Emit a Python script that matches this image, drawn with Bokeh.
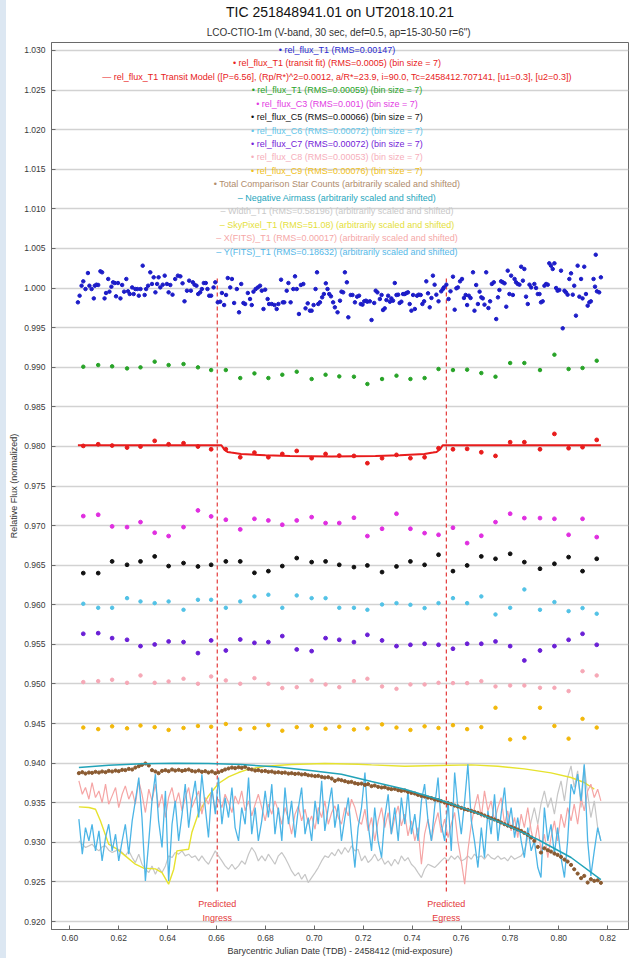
from bokeh.plotting import figure
from bokeh.models import Range1d, Label, Title, Div, FixedTicker, PrintfTickFormatter
from bokeh.layouts import row
from bokeh.embed import file_html
from bokeh.resources import INLINE

# ---------------- data ----------------
title_main = "TIC 251848941.01 on UT2018.10.21"
title_sub = 'LCO-CTIO-1m (V-band, 30 sec, def=0.5, ap=15-30-50  r=6")'
x_label = "Barycentric Julian Date (TDB) - 2458412 (mid-exposure)"
y_label = "Relative Flux (normalized)"

x_ticks = [0.60, 0.62, 0.64, 0.66, 0.68, 0.70, 0.72, 0.74, 0.76, 0.78, 0.80, 0.82]
y_ticks = [0.920, 0.925, 0.930, 0.935, 0.940, 0.945, 0.950, 0.955, 0.960, 0.965, 0.970, 0.975,
           0.980, 0.985, 0.990, 0.995, 1.000, 1.005, 1.010, 1.015, 1.020, 1.025, 1.030]

ingress_t = 0.6603
egress_t = 0.7540

# unbinned rel_flux_T1
t_unb = [
    0.6033, 0.6040, 0.6048, 0.6055, 0.6064, 0.6074, 0.6080, 0.6089, 0.6098, 0.6102,
    0.6109, 0.6116, 0.6125, 0.6132, 0.6142, 0.6148, 0.6157, 0.6162, 0.6170, 0.6177,
    0.6184, 0.6189, 0.6197, 0.6207, 0.6214, 0.6222, 0.6231, 0.6238, 0.6245, 0.6255,
    0.6261, 0.6268, 0.6276, 0.6282, 0.6289, 0.6298, 0.6306, 0.6312, 0.6320, 0.6329,
    0.6336, 0.6343, 0.6350, 0.6357, 0.6363, 0.6370, 0.6380, 0.6388, 0.6397, 0.6404,
    0.6411, 0.6420, 0.6431, 0.6442, 0.6452, 0.6461, 0.6469, 0.6479, 0.6488, 0.6495,
    0.6503, 0.6510, 0.6518, 0.6525, 0.6533, 0.6540, 0.6548, 0.6556, 0.6563, 0.6570,
    0.6578, 0.6588, 0.6595, 0.6605, 0.6615, 0.6622, 0.6631, 0.6639, 0.6646, 0.6656,
    0.6663, 0.6672, 0.6683, 0.6692, 0.6701, 0.6710, 0.6717, 0.6728, 0.6737, 0.6744,
    0.6751, 0.6760, 0.6769, 0.6778, 0.6785, 0.6792, 0.6799, 0.6809, 0.6815, 0.6826,
    0.6837, 0.6846, 0.6853, 0.6864, 0.6871, 0.6877, 0.6887, 0.6894, 0.6903, 0.6914,
    0.6921, 0.6928, 0.6937, 0.6945, 0.6955, 0.6964, 0.6973, 0.6982, 0.6989, 0.6997,
    0.7005, 0.7011, 0.7016, 0.7023, 0.7032, 0.7039, 0.7047, 0.7054, 0.7061, 0.7068,
    0.7077, 0.7084, 0.7095, 0.7105, 0.7111, 0.7118, 0.7125, 0.7133, 0.7139, 0.7149,
    0.7156, 0.7166, 0.7175,
    0.7183, 0.7190, 0.7197, 0.7204, 0.7211, 0.7217, 0.7227, 0.7234, 0.7245, 0.7251,
    0.7258, 0.7268, 0.7275, 0.7281, 0.7288, 0.7295, 0.7302, 0.7309, 0.7315, 0.7322,
    0.7329, 0.7336, 0.7343, 0.7349, 0.7356, 0.7363, 0.7370, 0.7377, 0.7383, 0.7390,
    0.7397, 0.7404, 0.7411, 0.7420, 0.7427, 0.7435, 0.7442, 0.7449, 0.7458, 0.7465,
    0.7472, 0.7479, 0.7485, 0.7492, 0.7499, 0.7508, 0.7519, 0.7526, 0.7530, 0.7540,
    0.7549, 0.7557, 0.7567, 0.7574, 0.7581, 0.7587, 0.7596, 0.7604, 0.7612, 0.7619,
    0.7625, 0.7632, 0.7639, 0.7649, 0.7655, 0.7662, 0.7669, 0.7676, 0.7683, 0.7689,
    0.7696, 0.7703, 0.7712, 0.7719, 0.7726, 0.7734, 0.7744, 0.7751, 0.7757, 0.7764,
    0.7771, 0.7778, 0.7785, 0.7791, 0.7798, 0.7805, 0.7812, 0.7819, 0.7825, 0.7832,
    0.7839, 0.7846, 0.7853, 0.7859, 0.7866, 0.7873, 0.7880, 0.7887, 0.7900, 0.7907,
    0.7914, 0.7921, 0.7927, 0.7934, 0.7941, 0.7948, 0.7955, 0.7961, 0.7968, 0.7975,
    0.7982, 0.7989, 0.7995, 0.8002, 0.8009, 0.8016, 0.8023, 0.8029, 0.8036, 0.8043,
    0.8050, 0.8057, 0.8063, 0.8070, 0.8077, 0.8084, 0.8091, 0.8097, 0.8104, 0.8111,
    0.8118, 0.8125, 0.8131, 0.8142, 0.8148, 0.8151, 0.8156, 0.8165, 0.8172,
]
f_unb = [
    0.99819, 0.99903, 1.00029, 1.00084, 0.99987, 1.00189, 1.00029, 0.99987, 0.99869, 1.00029,
    1.00042, 1.00038, 1.00211, 1.00198, 0.99869, 0.99937, 1.00114, 0.99954, 1.00017, 1.00072,
    1.00063, 0.99895, 1.00063, 0.99869, 1.00038, 0.99954, 1.00114, 0.99958, 0.99924, 1.00008,
    0.99924, 0.99987, 0.99987, 0.99903, 0.99987, 1.00282, 0.99912, 0.99987, 1.00029, 1.00198,
    1.00051, 1.00135, 0.99945, 1.00051, 1.00135, 1.00008, 1.00042, 1.00156, 1.00051, 0.99945,
    1.00038, 0.99916, 1.00114, 1.00156, 1.00147, 1.00059, 0.99832, 0.99966, 1.00093, 0.99966,
    1.00072, 1.00042, 1.00029, 0.99924, 0.99945, 0.99987, 1.00063, 1.00063, 0.99987, 0.99903,
    0.99903, 1.00008, 1.00072, 0.99819, 0.99827, 0.99937, 0.99785, 0.99912, 1.00126, 1.00008,
    1.00114, 0.99811, 0.99987, 0.99693, 1.00051, 0.99811, 0.99798, 0.99937, 0.99861, 0.99785,
    0.99954, 0.99987, 1.00008, 1.00029, 0.99966, 0.99735, 0.99979, 0.99861, 0.99798, 0.99798,
    0.99785, 0.99735, 0.99798, 1.00105, 0.99819, 0.99819, 0.99966, 1.00063, 0.99819, 0.99987,
    1.00147, 0.99987, 0.99672, 1.00038, 1.00051, 0.99743, 0.99806, 0.99714, 0.99714, 0.99785,
    0.99987, 1.00198, 0.99798, 0.99819, 0.99882, 0.99924, 1.00059, 0.99987, 0.99924, 0.99895,
    0.99819, 0.99756, 0.99693, 0.99840, 0.99954, 0.99945, 1.00198, 1.00072, 0.99630, 0.99912,
    0.99912, 0.99819, 0.99891,
    0.99903, 0.99798, 0.99790, 0.99832, 0.99840, 0.99827, 0.99832, 0.99596, 0.99811, 0.99966,
    0.99945, 0.99861, 0.99912, 0.99722, 0.99743, 0.99848, 0.99903, 0.99827, 0.99869, 0.99840,
    1.00063, 0.99912, 0.99916, 0.99811, 0.99827, 0.99924, 0.99924, 0.99937, 0.99945, 0.99798,
    0.99714, 0.99912, 0.99735, 0.99903, 0.99916, 0.99912, 0.99798, 0.99832, 1.00084, 0.99933,
    0.99756, 0.99874, 1.00156, 1.00042, 0.99916, 0.99832, 0.99958, 0.99987, 1.00008, 1.00042,
    0.99861, 0.99958, 1.00143, 0.99726, 0.99996, 1.00008, 1.00084, 1.00114, 0.99874, 0.99912,
    0.99785, 0.99903, 0.99874, 1.00198, 0.99714, 1.00038, 0.99798, 0.99954, 0.99882, 0.99869,
    0.99790, 1.00198, 0.99747, 0.99832, 1.00051, 1.00072, 0.99608, 0.99882, 0.99975, 1.00084,
    1.00072, 1.00059, 0.99764, 1.00219, 0.99924, 1.00156, 0.99912, 1.00114, 1.00072, 1.00051,
    1.00042, 1.00269, 1.00093, 1.00240, 0.99891, 0.99798, 1.00042, 1.00008, 1.00051, 1.00000,
    0.99924, 0.99924, 0.99819, 0.99832, 1.00029, 1.00051, 1.00042, 1.00312, 1.00282, 1.00240,
    1.00312, 1.00000, 0.99966, 0.99975, 1.00219, 0.99491, 0.99966, 0.99945, 0.99916, 1.00114,
    1.00185, 0.99916, 1.00029, 0.99651, 1.00282, 0.99891, 1.00114, 0.99869, 1.00269, 0.99924,
    0.99777, 0.99819, 0.99832, 1.00114, 1.00017, 1.00420, 0.99958, 0.99945, 1.00135,
]

# binned series (bin size = 7)
t_bin = [0.6055, 0.6116, 0.6173, 0.6234, 0.6289, 0.6347, 0.6404, 0.6465, 0.6524, 0.6578,
         0.6638, 0.6697, 0.6755, 0.6812, 0.6869, 0.6928, 0.6989, 0.7046, 0.7102, 0.7162,
         0.7217, 0.7277, 0.7336, 0.7393, 0.7451, 0.7508, 0.7567, 0.7625, 0.7683, 0.7741,
         0.7801, 0.7859, 0.7923, 0.7982, 0.8040, 0.8097, 0.8155]
t1_fit_bin = [0.98006, 0.98027, 0.98011, 0.97985, 0.97998, 0.98070, 0.98027, 0.98040, 0.97998, 0.97964,
              0.97964, 0.97863, 0.97922, 0.97863, 0.97905, 0.97943, 0.97851, 0.97905, 0.97884, 0.97880,
              0.97788, 0.97851, 0.97893, 0.97851, 0.97863, 0.97977, 0.97964, 0.97969, 0.97926, 0.97880,
              0.98053, 0.98053, 0.97964, 0.98158, 0.97977, 0.97990, 0.98082]
t1_bin = [0.99006, 0.99027, 0.99011, 0.98985, 0.98998, 0.99070, 0.99027, 0.99040, 0.98998, 0.98964,
          0.98964, 0.98863, 0.98922, 0.98863, 0.98905, 0.98943, 0.98851, 0.98905, 0.98884, 0.98880,
          0.98788, 0.98851, 0.98893, 0.98851, 0.98863, 0.98977, 0.98964, 0.98969, 0.98926, 0.98880,
          0.99053, 0.99053, 0.98964, 0.99158, 0.98977, 0.98990, 0.99082]
c3_bin = [0.97120, 0.97137, 0.96990, 0.96981, 0.97044, 0.96910, 0.96868, 0.96981, 0.97192, 0.97116,
          0.97074, 0.96952, 0.97086, 0.97065, 0.97011, 0.97065, 0.97107, 0.97032, 0.97032, 0.97099,
          0.96868, 0.96960, 0.97150, 0.96960, 0.96905, 0.96884, 0.96973, 0.96779, 0.96872, 0.97044,
          0.97150, 0.97095, 0.97095, 0.97086, 0.96884, 0.97086, 0.96855]
c5_bin = [0.96400, 0.96400, 0.96548, 0.96505, 0.96548, 0.96611, 0.96489, 0.96527, 0.96484, 0.96505,
          0.96548, 0.96548, 0.96404, 0.96425, 0.96489, 0.96590, 0.96539, 0.96548, 0.96505, 0.96476,
          0.96497, 0.96413, 0.96484, 0.96548, 0.96505, 0.96632, 0.96425, 0.96497, 0.96611, 0.96581,
          0.96644, 0.96539, 0.96455, 0.96518, 0.96602, 0.96425, 0.96581]
c6_bin = [0.96013, 0.95962, 0.95962, 0.96084, 0.96042, 0.96021, 0.96042, 0.95937, 0.96063, 0.96063,
          0.95962, 0.96042, 0.96106, 0.96127, 0.95962, 0.96118, 0.96084, 0.96084, 0.95962, 0.95962,
          0.95937, 0.96004, 0.96021, 0.96000, 0.95958, 0.96021, 0.96084, 0.96021, 0.96106, 0.95878,
          0.95962, 0.96194, 0.95937, 0.96034, 0.95920, 0.95958, 0.95887]
c7_bin = [0.95634, 0.95642, 0.95579, 0.95558, 0.95478, 0.95499, 0.95537, 0.95529, 0.95390, 0.95550,
          0.95423, 0.95562, 0.95520, 0.95529, 0.95605, 0.95436, 0.95415, 0.95579, 0.95558, 0.95529,
          0.95621, 0.95550, 0.95478, 0.95495, 0.95508, 0.95495, 0.95445, 0.95508, 0.95508, 0.95537,
          0.95478, 0.95297, 0.95423, 0.95478, 0.95558, 0.95634, 0.95495]
c8_bin = [0.95024, 0.95036, 0.95053, 0.95015, 0.95108, 0.95015, 0.95032, 0.95066, 0.95003, 0.95095,
          0.95045, 0.95003, 0.95074, 0.95003, 0.94948, 0.94960, 0.95045, 0.94994, 0.94960, 0.95036,
          0.95066, 0.94969, 0.94939, 0.94994, 0.94994, 0.95015, 0.95011, 0.95011, 0.95036, 0.94969,
          0.94981, 0.94981, 0.94952, 0.94952, 0.94910, 0.95162, 0.95108]
c9_bin = [0.94450, 0.94430, 0.94465, 0.94440, 0.94475, 0.94455, 0.94420, 0.94445, 0.94470, 0.94460,
          0.94495, 0.94430, 0.94445, 0.94480, 0.94410, 0.94455, 0.94470, 0.94435, 0.94460, 0.94425,
          0.94440, 0.94490, 0.94450, 0.94420, 0.94465, 0.94445, 0.94480, 0.94430, 0.94455, 0.94700,
          0.94300, 0.94320, 0.94700, 0.94470, 0.94310, 0.94560, 0.94450]

# transit model
model_t = [0.6033, 0.6620, 0.6632, 0.6645, 0.6660, 0.6700, 0.6800, 0.6900, 0.7071,
           0.7250, 0.7350, 0.7450, 0.7485, 0.7500, 0.7513, 0.7525, 0.8172]
model_f = [0.98015, 0.98015, 0.97960, 0.97930, 0.97922, 0.97905, 0.97888, 0.97878, 0.97872,
           0.97878, 0.97888, 0.97905, 0.97922, 0.97930, 0.97960, 0.98015, 0.98015]

# auxiliary series (sampled on a common time grid)
t_aux = [
    0.6037, 0.6051, 0.6064, 0.6078, 0.6091, 0.6105, 0.6119, 0.6132, 0.6146, 0.6159,
    0.6173, 0.6187, 0.6200, 0.6214, 0.6227, 0.6241, 0.6255, 0.6268, 0.6282, 0.6295,
    0.6309, 0.6323, 0.6336, 0.6350, 0.6363, 0.6377, 0.6391, 0.6404, 0.6418, 0.6431,
    0.6445, 0.6459, 0.6472, 0.6486, 0.6499, 0.6513, 0.6527, 0.6540, 0.6554, 0.6567,
    0.6581, 0.6595, 0.6608, 0.6622, 0.6635, 0.6649, 0.6663, 0.6676, 0.6690, 0.6703,
    0.6717, 0.6731, 0.6744, 0.6758, 0.6771, 0.6785, 0.6799, 0.6812, 0.6826, 0.6839,
    0.6853, 0.6867, 0.6880, 0.6894, 0.6907, 0.6921, 0.6935, 0.6948, 0.6962, 0.6975,
    0.6989, 0.7003, 0.7016, 0.7030, 0.7043, 0.7057, 0.7071, 0.7084, 0.7098, 0.7111,
    0.7125, 0.7139, 0.7152, 0.7166, 0.7179,
    0.7193, 0.7207, 0.7220, 0.7234, 0.7247, 0.7261, 0.7275, 0.7288, 0.7302, 0.7315,
    0.7329, 0.7343, 0.7356, 0.7370, 0.7383, 0.7397, 0.7411, 0.7424, 0.7438, 0.7451,
    0.7465, 0.7479, 0.7492, 0.7506, 0.7519, 0.7533, 0.7547, 0.7560, 0.7574, 0.7587,
    0.7601, 0.7615, 0.7628, 0.7642, 0.7655, 0.7669, 0.7683, 0.7696, 0.7710, 0.7723,
    0.7737, 0.7751, 0.7764, 0.7778, 0.7791, 0.7805, 0.7819, 0.7832, 0.7846, 0.7859,
    0.7873, 0.7887, 0.7900, 0.7914, 0.7927, 0.7941, 0.7955, 0.7968, 0.7982, 0.7995,
    0.8009, 0.8023, 0.8036, 0.8050, 0.8063, 0.8077, 0.8091, 0.8104, 0.8118, 0.8131,
    0.8145, 0.8159, 0.8172,
]
comp_counts = [
    0.93874, 0.93886, 0.93869, 0.93882, 0.93878, 0.93891, 0.93882, 0.93895, 0.93886, 0.93903,
    0.93895, 0.93907, 0.93899, 0.93916, 0.93912, 0.93928, 0.93920, 0.93945, 0.93962, 0.93979,
    0.93996, 0.93971, 0.93912, 0.93895, 0.93874, 0.93903, 0.93912, 0.93899, 0.93920, 0.93907,
    0.93916, 0.93903, 0.93912, 0.93920, 0.93903, 0.93895, 0.93907, 0.93891, 0.93899, 0.93882,
    0.93895, 0.93874, 0.93886, 0.93903, 0.93920, 0.93933, 0.93945, 0.93937, 0.93949, 0.93941,
    0.93954, 0.93928, 0.93920, 0.93907, 0.93912, 0.93899, 0.93903, 0.93891, 0.93895, 0.93882,
    0.93886, 0.93878, 0.93882, 0.93869, 0.93874, 0.93865, 0.93869, 0.93857, 0.93861, 0.93848,
    0.93844, 0.93836, 0.93840, 0.93827, 0.93819, 0.93823, 0.93806, 0.93777, 0.93794, 0.93785,
    0.93773, 0.93760, 0.93764, 0.93747, 0.93739,
    0.93743, 0.93726, 0.93735, 0.93710, 0.93718, 0.93701, 0.93693, 0.93697, 0.93680, 0.93672,
    0.93676, 0.93659, 0.93651, 0.93655, 0.93638, 0.93625, 0.93617, 0.93600, 0.93587, 0.93579,
    0.93566, 0.93558, 0.93541, 0.93533, 0.93520, 0.93503, 0.93495, 0.93482, 0.93465, 0.93453,
    0.93436, 0.93419, 0.93411, 0.93398, 0.93385, 0.93373, 0.93356, 0.93339, 0.93322, 0.93305,
    0.93289, 0.93272, 0.93251, 0.93230, 0.93213, 0.93196, 0.93179, 0.93162, 0.93145, 0.93120,
    0.93095, 0.93061, 0.93019, 0.92943, 0.92872, 0.92926, 0.92901, 0.92884, 0.92859, 0.92842,
    0.92817, 0.92783, 0.92758, 0.92716, 0.92661, 0.92606, 0.92548, 0.92577, 0.92493, 0.92535,
    0.92514, 0.92522, 0.92489,
]
width_t1 = [
    0.93019, 0.92977, 0.92935, 0.92956, 0.92977, 0.92926, 0.92893, 0.92943, 0.92956, 0.92901,
    0.92872, 0.92893, 0.92914, 0.92872, 0.92830, 0.92893, 0.92808, 0.92745, 0.92851, 0.92724,
    0.92661, 0.92619, 0.92703, 0.92598, 0.92682, 0.92619, 0.92703, 0.92830, 0.92808, 0.92872,
    0.92851, 0.92893, 0.92830, 0.92851, 0.92808, 0.92830, 0.92766, 0.92830, 0.92766, 0.92724,
    0.92808, 0.92893, 0.92830, 0.92766, 0.92703, 0.92661, 0.92724, 0.92661, 0.92703, 0.92766,
    0.92724, 0.92851, 0.92935, 0.92872, 0.92766, 0.92830, 0.92766, 0.92851, 0.92787, 0.92724,
    0.92830, 0.92872, 0.92808, 0.92724, 0.92640, 0.92577, 0.92619, 0.92535, 0.92598, 0.92493,
    0.92556, 0.92619, 0.92682, 0.92766, 0.92830, 0.92808, 0.92872, 0.92830, 0.92914, 0.92851,
    0.92935, 0.92872, 0.92956, 0.92893, 0.92914,
    0.92766, 0.92830, 0.92745, 0.92787, 0.92851, 0.92766, 0.92808, 0.92724, 0.92766, 0.92703,
    0.92787, 0.92724, 0.92830, 0.92766, 0.92808, 0.92724, 0.92682, 0.92619, 0.92556, 0.92661,
    0.92724, 0.92703, 0.92682, 0.92724, 0.92766, 0.92808, 0.92766, 0.92830, 0.92787, 0.92830,
    0.92766, 0.92787, 0.92830, 0.92787, 0.92851, 0.92808, 0.92830, 0.92787, 0.92851, 0.92808,
    0.92787, 0.92830, 0.92787, 0.92808, 0.92766, 0.92830, 0.92787, 0.92808, 0.92830, 0.92893,
    0.93061, 0.93272, 0.93440, 0.93229, 0.93482, 0.93650, 0.93440, 0.93566, 0.93356, 0.93608,
    0.93777, 0.93524, 0.93819, 0.93966, 0.93693, 0.93903, 0.93440, 0.93966, 0.93608, 0.93314,
    0.93524, 0.93187, 0.93019,
]
x_fits = [
    0.93777, 0.93608, 0.93693, 0.93545, 0.93756, 0.93566, 0.93650, 0.93503, 0.93735, 0.93482,
    0.93587, 0.93693, 0.93440, 0.93608, 0.93714, 0.93545, 0.93650, 0.93482, 0.93777, 0.93608,
    0.93377, 0.93672, 0.93524, 0.93735, 0.93440, 0.93608, 0.93314, 0.93566, 0.93693, 0.93482,
    0.93629, 0.93398, 0.93566, 0.93693, 0.93440, 0.93545, 0.93650, 0.93356, 0.93566, 0.93482,
    0.93650, 0.93419, 0.93545, 0.93440, 0.93608, 0.93503, 0.93377, 0.93587, 0.93482, 0.93650,
    0.93398, 0.93524, 0.93335, 0.93482, 0.93608, 0.93440, 0.93272, 0.93482, 0.93356, 0.93524,
    0.93398, 0.93229, 0.93440, 0.93293, 0.93103, 0.93356, 0.93461, 0.93272, 0.93419, 0.93229,
    0.93335, 0.93166, 0.93440, 0.93314, 0.93524, 0.93229, 0.93377, 0.93461, 0.93314, 0.93229,
    0.93440, 0.93335, 0.93545, 0.93440, 0.93272,
    0.93229, 0.93419, 0.93145, 0.93314, 0.93019, 0.93272, 0.93440, 0.93187, 0.93377, 0.93103,
    0.93314, 0.93461, 0.93208, 0.93356, 0.93082, 0.93272, 0.93019, 0.93187, 0.92724, 0.93103,
    0.93293, 0.93019, 0.93229, 0.93377, 0.93124, 0.93293, 0.93061, 0.93229, 0.93377, 0.93019,
    0.92766, 0.92472, 0.92893, 0.93229, 0.93440, 0.93608, 0.93314, 0.93650, 0.93398, 0.93524,
    0.93272, 0.93440, 0.93566, 0.93229, 0.93398, 0.93145, 0.93314, 0.93061, 0.93356, 0.93187,
    0.93440, 0.93145, 0.92977, 0.93229, 0.92893, 0.93103, 0.92808, 0.93061, 0.93272, 0.93019,
    0.93356, 0.93187, 0.93440, 0.93272, 0.93482, 0.93229, 0.93566, 0.93398, 0.93650, 0.93735,
    0.93566, 0.93672, 0.93524,
]
y_fits = [
    0.93293, 0.92851, 0.93187, 0.93019, 0.93229, 0.92893, 0.93145, 0.92766, 0.93061, 0.93229,
    0.92893, 0.93103, 0.92766, 0.93019, 0.93229, 0.92851, 0.93272, 0.93524, 0.93819, 0.93314,
    0.92514, 0.93019, 0.93524, 0.93861, 0.93272, 0.92935, 0.93650, 0.92514, 0.93229, 0.93524,
    0.93019, 0.93356, 0.93735, 0.93187, 0.93524, 0.93777, 0.93314, 0.93861, 0.93440, 0.93061,
    0.93693, 0.93356, 0.93819, 0.93229, 0.93566, 0.93314, 0.93693, 0.93187, 0.93019, 0.93440,
    0.93229, 0.93819, 0.93103, 0.93440, 0.93019, 0.93272, 0.93650, 0.93314, 0.93735, 0.93103,
    0.93440, 0.93019, 0.93693, 0.93229, 0.93524, 0.93061, 0.93440, 0.93693, 0.93103, 0.93314,
    0.93019, 0.93524, 0.93229, 0.93777, 0.93145, 0.93440, 0.93693, 0.93187, 0.93482, 0.93019,
    0.93314, 0.93566, 0.93103, 0.92682, 0.93187,
    0.93440, 0.93882, 0.93229, 0.92893, 0.93440, 0.93019, 0.92808, 0.93314, 0.93608, 0.93103,
    0.93440, 0.93019, 0.93566, 0.93229, 0.93650, 0.93103, 0.93356, 0.93019, 0.93524, 0.93735,
    0.93272, 0.93019, 0.93440, 0.93819, 0.93229, 0.93019, 0.93524, 0.92893, 0.93882, 0.93440,
    0.93103, 0.93524, 0.93987, 0.93272, 0.93019, 0.92682, 0.93187, 0.92808, 0.93398, 0.93103,
    0.93608, 0.93019, 0.93356, 0.93693, 0.93187, 0.93440, 0.93061, 0.93314, 0.93019, 0.92808,
    0.93187, 0.92893, 0.93019, 0.92682, 0.92556, 0.93440, 0.93019, 0.93229, 0.92851, 0.93187,
    0.92808, 0.92556, 0.93019, 0.93735, 0.93608, 0.93861, 0.93524, 0.93987, 0.93019, 0.92577,
    0.92893, 0.93187, 0.93019,
]

airmass_t = [0.6037, 0.6159, 0.6295, 0.6431, 0.6567, 0.6703, 0.6839, 0.6975, 0.7111,
             0.7234, 0.7370, 0.7506, 0.7642, 0.7778, 0.7914, 0.8050, 0.8172]
airmass_v = [0.93945, 0.93975, 0.93992, 0.94000, 0.93996, 0.93983, 0.93954, 0.93912, 0.93861,
             0.93768, 0.93672, 0.93545, 0.93398, 0.93230, 0.93036, 0.92809, 0.92530]

sky_t = [0.6037, 0.6078, 0.6105, 0.6125, 0.6159, 0.6193, 0.6227, 0.6268, 0.6302, 0.6350,
         0.6377, 0.6404, 0.6425, 0.6438, 0.6486, 0.6499, 0.6527, 0.6567, 0.6608, 0.6649,
         0.6690, 0.6731, 0.6799, 0.6907, 0.7043, 0.7179, 0.7234, 0.7370, 0.7506, 0.7642,
         0.7751, 0.7859, 0.7968, 0.8050, 0.8104, 0.8145]
sky_v = [0.93449, 0.93440, 0.93419, 0.93272, 0.92977, 0.92914, 0.92830, 0.92724, 0.92674, 0.92665,
         0.92619, 0.92472, 0.92661, 0.92893, 0.92914, 0.93124, 0.93377, 0.93587, 0.93743, 0.93827,
         0.93882, 0.93924, 0.93962, 0.93983, 0.93996, 0.93987, 0.93979, 0.93962, 0.93971, 0.93979,
         0.93962, 0.93928, 0.93878, 0.93819, 0.93756, 0.93672]

legend_entries = [
    ("\u2022 rel_flux_T1 (RMS=0.00147)", "#2a2ad0"),
    ("\u2022 rel_flux_T1 (transit fit) (RMS=0.0005) (bin size = 7)", "#e82222"),
    ("\u2014 rel_flux_T1 Transit Model ([P=6.56], (Rp/R*)^2=0.0012, a/R*=23.9, i=90.0, "
     "Tc=2458412.707141, [u1=0.3], [u2=0.3])", "#e82222"),
    ("\u2022 rel_flux_T1 (RMS=0.00059) (bin size = 7)", "#2aa52a"),
    ("\u2022 rel_flux_C3 (RMS=0.001) (bin size = 7)", "#e23ce2"),
    ("\u2022 rel_flux_C5 (RMS=0.00066) (bin size = 7)", "#111111"),
    ("\u2022 rel_flux_C6 (RMS=0.00072) (bin size = 7)", "#62c6ea"),
    ("\u2022 rel_flux_C7 (RMS=0.00072) (bin size = 7)", "#7422d8"),
    ("\u2022 rel_flux_C8 (RMS=0.00053) (bin size = 7)", "#f6aebb"),
    ("\u2022 rel_flux_C9 (RMS=0.00076) (bin size = 7)", "#f0c020"),
    ("\u2022 Total Comparison Star Counts (arbitrarily scaled and shifted)", "#b08c6c"),
    ("\u2013 Negative Airmass (arbitrarily scaled and shifted)", "#25a6bd"),
    ("\u2013 Width_T1 (RMS=0.58196) (arbitrarily scaled and shifted)", "#c8c8c8"),
    ("\u2013 SkyPixel_T1 (RMS=51.08) (arbitrarily scaled and shifted)", "#e4e03a"),
    ("\u2013 X(FITS)_T1 (RMS=0.00017) (arbitrarily scaled and shifted)", "#f5a7a7"),
    ("\u2013 Y(FITS)_T1 (RMS=0.18632) (arbitrarily scaled and shifted)", "#55b8e8"),
]

# ---------------- styling / layout ----------------
FONT = "Liberation Sans"
X0, X1 = 0.5925, 0.8285
Y0, Y1 = 0.9190, 1.0310
STRIP = 6
FIG_W, FIG_H = 631 - STRIP, 958
FRAME_TOP, FRAME_H = 42, 887

C_BLUE, C_RED, C_GREEN = "#1c1cc8", "#e81c1c", "#27a327"
C_MAG, C_BLACK, C_C6, C_C7 = "#e02ee0", "#111111", "#52c2e6", "#6a1fd6"
C_C8, C_C9, C_BROWN = "#f6a8b6", "#f2b80a", "#8a5a30"
C_TEAL, C_GRAY, C_YEL, C_PINK, C_SKY = "#22a3b8", "#c6c6c6", "#e6e22e", "#f5a5a5", "#4cb5e6"

p = figure(width=FIG_W, height=FIG_H, x_range=Range1d(X0, X1), y_range=Range1d(Y0, Y1),
           output_backend="svg", toolbar_location=None,
           min_border_left=40, min_border_right=3, min_border_bottom=27, min_border_top=FRAME_TOP)
p.background_fill_color = "white"
p.border_fill_color = "white"
p.outline_line_color = "#6a6a6a"
p.outline_line_width = 1

p.xaxis.ticker = FixedTicker(ticks=x_ticks)
p.yaxis.ticker = FixedTicker(ticks=y_ticks)
p.xaxis.formatter = PrintfTickFormatter(format="%.2f")
p.yaxis.formatter = PrintfTickFormatter(format="%.3f")
for ax in (p.xaxis[0], p.yaxis[0]):
    ax.axis_line_color = "#6a6a6a"
    ax.major_tick_line_color = "#6a6a6a"
    ax.major_tick_in = 4
    ax.major_tick_out = 0
    ax.minor_tick_line_color = None
    ax.major_label_text_font = FONT
    ax.major_label_text_font_size = "8.5px"
    ax.major_label_text_color = "#3a3a3a"
    ax.axis_label_text_font = FONT
    ax.axis_label_text_font_size = "9px"
    ax.axis_label_text_font_style = "normal"
    ax.axis_label_text_color = "#333333"
p.xaxis.axis_label = x_label
p.yaxis.axis_label = y_label
p.xaxis.major_label_standoff = 5
p.xaxis.axis_label_standoff = 2
p.yaxis.major_label_standoff = 6
p.yaxis.axis_label_standoff = 2

p.xgrid.visible = False
p.ygrid.grid_line_color = "#d2d2d2"
p.ygrid.grid_line_width = 1.5

# titles (subtitle first so that it sits next to the frame)
p.add_layout(Title(text=title_sub, align="center", text_font=FONT, text_font_size="10px",
                   text_font_style="normal", text_color="#333333", standoff=10,
                   text_line_height=0.9), "above")
p.add_layout(Title(text=title_main, align="center", text_font=FONT, text_font_size="14px",
                   text_font_style="normal", text_color="#111111", standoff=0), "above")

px_per_y = FRAME_H / (Y1 - Y0)
x_mid = (X0 + X1) / 2

# ---------------- glyphs ----------------
# predicted ingress / egress
p.segment(x0=[ingress_t, egress_t], y0=[1.0012, 1.0012], x1=[ingress_t, egress_t], y1=[0.9237, 0.9237],
          line_color="#e43a3a", line_dash="4 3", line_width=1.2)

# bottom auxiliary curves
p.line(t_aux, width_t1, line_color=C_GRAY, line_width=1.2)
p.line(sky_t, sky_v, line_color=C_YEL, line_width=1.4)
p.line(t_aux, x_fits, line_color=C_PINK, line_width=1.2)
p.line(t_aux, y_fits, line_color=C_SKY, line_width=1.3)
p.scatter(t_aux, comp_counts, size=3.2, color=C_BROWN)
p.line(airmass_t, airmass_v, line_color=C_TEAL, line_width=1.5)

# binned comparison stars
p.scatter(t_bin, c9_bin, size=3.5, color=C_C9)
p.scatter(t_bin, c8_bin, size=3.5, color=C_C8)
p.scatter(t_bin, c7_bin, size=3.8, color=C_C7)
p.scatter(t_bin, c6_bin, size=3.5, color=C_C6)
p.scatter(t_bin, c5_bin, size=3.8, color=C_BLACK)
p.scatter(t_bin, c3_bin, size=3.8, color=C_MAG)
p.scatter(t_bin, t1_bin, size=3.5, color=C_GREEN)

# transit fit
p.line(model_t, model_f, line_color=C_RED, line_width=2)
p.scatter(t_bin, t1_fit_bin, size=3.8, color=C_RED)

# unbinned target
p.scatter(t_unb, f_unb, size=3.5, color=C_BLUE)

# predicted labels
for tt, word in ((ingress_t, "Ingress"), (egress_t, "Egress")):
    p.add_layout(Label(x=tt, y=0.92226, text="Predicted", text_align="center", text_baseline="middle",
                       text_font=FONT, text_font_size="9px", text_color="#e43a3a"))
    p.add_layout(Label(x=tt, y=0.92049, text=word, text_align="center", text_baseline="middle",
                       text_font=FONT, text_font_size="9px", text_color="#e43a3a"))

# legend lines (coloured text, centred at the top of the plot)
xc = x_mid - 3 * (X1 - X0) / 575
for i, (txt, col) in enumerate(legend_entries):
    py = 49.3 + 13.45 * i
    yd = Y1 - (py - FRAME_TOP) / px_per_y
    p.add_layout(Label(x=xc, y=yd, text=txt, text_align="center", text_baseline="middle",
                       text_font=FONT, text_font_size="9px", text_color=col))

strip = Div(text="", width=STRIP, height=FIG_H, margin=0,
            styles={"background-color": "#dce7f2"})
layout = row(strip, p, spacing=0)

open("out.html", "w").write(file_html(layout, INLINE))
